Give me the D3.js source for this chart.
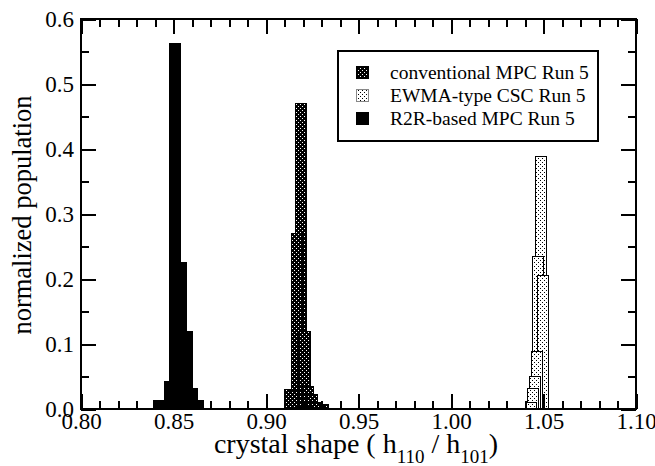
<!DOCTYPE html>
<html>
<head>
<meta charset="utf-8">
<script src="https://cdn.jsdelivr.net/npm/d3@7"></script>
<style>
  html, body { margin: 0; padding: 0; background: #fff; }
  svg { display: block; font-family: "Liberation Serif", "Times New Roman", serif; }
</style>
</head>
<body>
<div id="chart"></div>
<script>
// Crystal shape distributions (bin centre of h110/h101, normalized population)
const barWidth = 0.006;

const r2rCenters  = [0.842, 0.845, 0.848, 0.851, 0.854, 0.857, 0.860, 0.863];
const r2rValues   = [0.013, 0.010, 0.042, 0.562, 0.226, 0.120, 0.032, 0.013];

const convCenters = [0.9128, 0.9148, 0.9168, 0.9188, 0.9208, 0.9228, 0.9248, 0.9268, 0.9288, 0.9308];
const convValues  = [0.030, 0.028, 0.270, 0.470, 0.120, 0.035, 0.022, 0.010, 0.006, 0.007];

const ewmaCenters = [1.0430, 1.0442, 1.0453, 1.0463, 1.0470, 1.0488, 1.0495];
const ewmaValues  = [0.010, 0.031, 0.050, 0.089, 0.235, 0.389, 0.206];

const seriesNames = ["conventional MPC Run 5", "EWMA-type CSC Run 5", "R2R-based MPC Run 5"];

const xTicksMajor = [0.80, 0.85, 0.90, 0.95, 1.00, 1.05, 1.10];
const xTickLabels = ["0.80", "0.85", "0.90", "0.95", "1.00", "1.05", "1.10"];
const xTicksMinor = [0.81, 0.82, 0.83, 0.84, 0.86, 0.87, 0.88, 0.89, 0.91, 0.92, 0.93, 0.94,
                     0.96, 0.97, 0.98, 0.99, 1.01, 1.02, 1.03, 1.04, 1.06, 1.07, 1.08, 1.09];
const yTicksMajor = [0.0, 0.1, 0.2, 0.3, 0.4, 0.5, 0.6];
const yTickLabels = ["0.0", "0.1", "0.2", "0.3", "0.4", "0.5", "0.6"];
const yTicksMinor = [0.05, 0.15, 0.25, 0.35, 0.45, 0.55];

const W = 655, H = 466;
const plot = { left: 81, right: 636, top: 19, bottom: 409 };
const serif = "'Liberation Serif', 'Times New Roman', serif";

const svg = d3.select("#chart").append("svg")
  .attr("width", W).attr("height", H)
  .attr("viewBox", `0 0 ${W} ${H}`);

// stipple fills
const defs = svg.append("defs");
const dark = defs.append("pattern").attr("id", "darkDots")
  .attr("patternUnits", "userSpaceOnUse").attr("width", 4).attr("height", 4);
dark.append("rect").attr("width", 4).attr("height", 4).attr("fill", "#000");
dark.append("rect").attr("x", 0).attr("y", 0).attr("width", 1).attr("height", 1).attr("fill", "#fff");
dark.append("rect").attr("x", 2).attr("y", 2).attr("width", 1).attr("height", 1).attr("fill", "#fff");

const light = defs.append("pattern").attr("id", "lightDots")
  .attr("patternUnits", "userSpaceOnUse").attr("width", 4).attr("height", 4);
light.append("rect").attr("width", 4).attr("height", 4).attr("fill", "#fff");
light.append("rect").attr("x", 0).attr("y", 0).attr("width", 1).attr("height", 1).attr("fill", "#000");
light.append("rect").attr("x", 2).attr("y", 2).attr("width", 1).attr("height", 1).attr("fill", "#000");

const x = d3.scaleLinear().domain([0.80, 1.10]).range([plot.left, plot.right]);
const y = d3.scaleLinear().domain([0, 0.6]).range([plot.bottom, plot.top]);

const fills = ["url(#darkDots)", "url(#lightDots)", "#000"];
const series = [
  { centers: convCenters, values: convValues, fill: fills[0] },
  { centers: ewmaCenters, values: ewmaValues, fill: fills[1] },
  { centers: r2rCenters,  values: r2rValues,  fill: fills[2] }
];

// bars: taller bins first so the shorter outlines stay visible on top
const barsG = svg.append("g").attr("shape-rendering", "crispEdges");
series.forEach(s => {
  const bins = s.centers.map((c, i) => ({ c, v: s.values[i] }))
    .sort((a, b) => b.v - a.v);
  barsG.append("g").selectAll("rect").data(bins).join("rect")
    .attr("x", d => x(d.c - barWidth / 2))
    .attr("width", d => x(d.c + barWidth / 2) - x(d.c - barWidth / 2))
    .attr("y", d => y(d.v))
    .attr("height", d => y(0) - y(d.v))
    .attr("fill", s.fill)
    .attr("stroke", "#000")
    .attr("stroke-width", 1);
});

// axes: inward ticks on all four sides
function styleAxis(g) {
  g.select(".domain").remove();
  g.selectAll(".tick line").attr("stroke", "#000").attr("stroke-width", 2);
  g.attr("shape-rendering", "crispEdges");
}

const bottomMajor = svg.append("g").attr("transform", `translate(0,${plot.bottom})`)
  .call(d3.axisBottom(x).tickValues(xTicksMajor).tickSize(-15)
    .tickFormat((d, i) => xTickLabels[i]));
styleAxis(bottomMajor);
bottomMajor.attr("font-family", serif).attr("font-size", 23);
bottomMajor.selectAll(".tick text")
  .attr("y", 20).attr("dy", null).attr("fill", "#000");

svg.append("g").attr("transform", `translate(0,${plot.bottom})`)
  .call(d3.axisBottom(x).tickValues(xTicksMinor).tickSize(-8).tickFormat(""))
  .call(styleAxis);

svg.append("g").attr("transform", `translate(0,${plot.top})`)
  .call(d3.axisTop(x).tickValues(xTicksMajor).tickSize(-15).tickFormat(""))
  .call(styleAxis);
svg.append("g").attr("transform", `translate(0,${plot.top})`)
  .call(d3.axisTop(x).tickValues(xTicksMinor).tickSize(-8).tickFormat(""))
  .call(styleAxis);

const leftMajor = svg.append("g").attr("transform", `translate(${plot.left},0)`)
  .call(d3.axisLeft(y).tickValues(yTicksMajor).tickSize(-15).tickPadding(7)
    .tickFormat((d, i) => yTickLabels[i]));
styleAxis(leftMajor);
leftMajor.attr("font-family", serif).attr("font-size", 23);
leftMajor.selectAll(".tick text").attr("fill", "#000");

svg.append("g").attr("transform", `translate(${plot.left},0)`)
  .call(d3.axisLeft(y).tickValues(yTicksMinor).tickSize(-8).tickFormat(""))
  .call(styleAxis);

svg.append("g").attr("transform", `translate(${plot.right},0)`)
  .call(d3.axisRight(y).tickValues(yTicksMajor).tickSize(-15).tickFormat(""))
  .call(styleAxis);
svg.append("g").attr("transform", `translate(${plot.right},0)`)
  .call(d3.axisRight(y).tickValues(yTicksMinor).tickSize(-8).tickFormat(""))
  .call(styleAxis);

// frame
svg.append("rect")
  .attr("x", plot.left).attr("y", plot.top)
  .attr("width", plot.right - plot.left).attr("height", plot.bottom - plot.top)
  .attr("fill", "none").attr("stroke", "#000").attr("stroke-width", 2)
  .attr("shape-rendering", "crispEdges");

// axis titles
const xTitle = svg.append("text")
  .attr("x", 356).attr("y", 453)
  .attr("text-anchor", "middle").attr("font-size", 28).attr("fill", "#000");
xTitle.append("tspan").text("crystal shape ( h");
xTitle.append("tspan").attr("font-size", 19).attr("dy", 10).text("110");
xTitle.append("tspan").attr("dy", -10).text(" / h");
xTitle.append("tspan").attr("font-size", 19).attr("dy", 10).text("101");
xTitle.append("tspan").attr("dy", -10).text(")");

svg.append("text")
  .attr("transform", `translate(31,${(plot.top + plot.bottom) / 2 + 1}) rotate(-90)`)
  .attr("text-anchor", "middle").attr("font-size", 26.5).attr("fill", "#000")
  .text("normalized population");

// legend
const legend = svg.append("g");
legend.append("rect")
  .attr("x", 338).attr("y", 51).attr("width", 260).attr("height", 90)
  .attr("fill", "#fff").attr("stroke", "#000").attr("stroke-width", 1.5)
  .attr("shape-rendering", "crispEdges");
const rowY = d => 72 + d * 23.3;
seriesNames.forEach((name, i) => {
  legend.append("rect")
    .attr("x", 356).attr("y", rowY(i) - 6).attr("width", 12).attr("height", 12)
    .attr("fill", fills[i]).attr("stroke", i === 1 ? "#888" : "#000").attr("stroke-width", 1)
    .attr("shape-rendering", "crispEdges");
  legend.append("text")
    .attr("x", 390).attr("y", rowY(i) + 6.5)
    .attr("font-size", 19.5).attr("fill", "#000")
    .text(name);
});
</script>
</body>
</html>
